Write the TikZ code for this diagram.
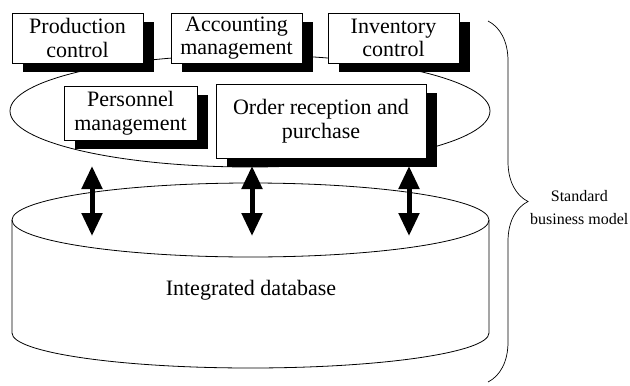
\documentclass[tikz,border=0pt]{standalone}
\usepackage{fontspec}
\setmainfont{Liberation Serif}
\usetikzlibrary{arrows.meta,shadows,decorations.pathreplacing}

\begin{document}
\begin{tikzpicture}[
    x=1pt, y=-1pt,
    >={Triangle[width=20pt,length=23pt]},
    module/.style={draw, fill=white, line width=0.7pt, inner sep=0pt, align=center,
        font=\fontsize{22}{23.5}\selectfont,
        drop shadow={shadow xshift=11pt, shadow yshift=-9pt, fill=black, opacity=1}},
    link/.style={<->, line width=5pt}
]
    \useasboundingbox (0,0) rectangle (630,386);

    % Integrated database
    \draw[line width=0.8pt] (250.5,220) ellipse [x radius=238.5, y radius=37];
    \draw[line width=0.8pt] (12,220) -- (12,333)
        arc [start angle=180, end angle=0, x radius=238.5, y radius=35] -- (489,220);
    \node[font=\fontsize{22}{24}\selectfont] (db) at (251,290) {Integrated database};

    % Business functions
    \draw[line width=0.8pt] (250,111) ellipse [x radius=240, y radius=56];

    \node[module, minimum width=131pt, minimum height=50pt] (prod) at (77.5,38) {Production\\control};
    \node[module, minimum width=131pt, minimum height=50pt] (acc) at (236.5,38) {Accounting\\management};
    \node[module, minimum width=131pt, minimum height=50pt] (inv) at (393.5,38) {Inventory\\control};
    \node[module, minimum width=133pt, minimum height=54pt] (pers) at (130.5,113) {Personnel\\management};
    \node[module, minimum width=210pt, minimum height=74pt] (order) at (321,121) {Order reception and\\purchase};

    % Links to database
    \coordinate (up1) at (92,166);  \coordinate (dn1) at (92,236);
    \coordinate (up2) at (252,166); \coordinate (dn2) at (252,236);
    \coordinate (up3) at (409,166); \coordinate (dn3) at (409,236);
    \draw[link] (up1) -- (dn1);
    \draw[link] (up2) -- (dn2);
    \draw[link] (up3) -- (dn3);

    % Standard business model
    \draw[line width=0.7pt, decorate, decoration={brace, amplitude=40pt}] (488,21) -- (488,382);
    \node[anchor=west, align=center, inner sep=1pt, font=\fontsize{16}{23}\selectfont] (model) at (529,208) {Standard\\business model};
\end{tikzpicture}
\end{document}
